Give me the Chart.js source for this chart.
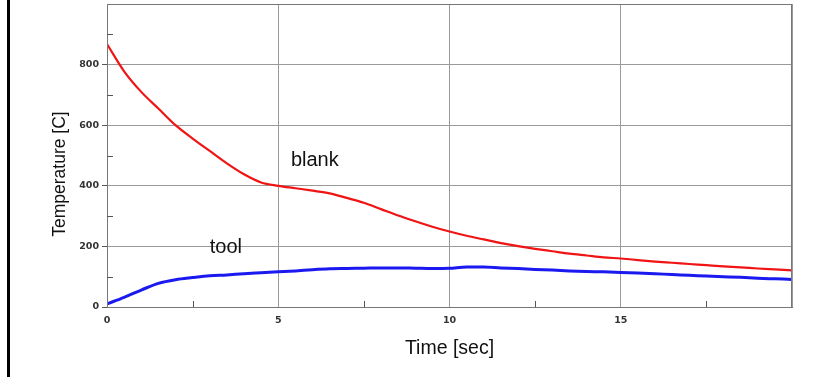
<!DOCTYPE html>
<html>
<head>
<meta charset="utf-8">
<script src="https://cdn.jsdelivr.net/npm/chart.js@4.4.1/dist/chart.umd.min.js"></script>
<style>
  body { margin: 0; background: #fff; }
  #wrap { position: relative; width: 838px; height: 377px; }
  #edge { position: absolute; left: 7px; top: 0; width: 3px; height: 377px; background: #000; }
</style>
</head>
<body>
<div id="wrap">
  <canvas id="temp_chart" width="838" height="377"></canvas>
  <div id="edge"></div>
</div>
<script>
// time axis [sec]
const blankTime = [0, 0.5, 1, 1.5, 2, 2.5, 3, 3.5, 4, 4.5, 5, 5.5, 6, 6.5, 7, 7.5, 8, 8.5, 9, 9.5,
    10, 10.5, 11, 11.5, 12, 12.5, 13, 13.5, 14, 14.5, 15, 15.5, 16, 16.5, 17, 17.5, 18, 18.5, 19, 19.5, 20]
const blankTemp = [868, 778, 710, 655, 600, 556, 515, 474, 438, 411, 400, 392, 384, 375, 360, 344, 323, 302, 283, 265,
    249, 235, 223, 211, 201, 192, 184, 176, 170, 164, 160, 155, 150, 146, 142, 138, 134, 131, 127, 124, 121]

const toolTime = blankTime
const toolTemp = [10, 32, 56, 78, 90, 97, 103, 106, 110, 113, 116, 119, 123, 126, 127, 128, 129, 129, 128, 127,
    128, 132, 132, 129, 127, 124, 122, 119, 117, 116, 114, 112, 110, 107, 105, 102, 100, 98, 95, 93, 91]

const yTicks = [0, 200, 400, 600, 800]
const xTicks = [0, 5, 10, 15]
const yMinor = [100, 300, 500, 700, 900]
const xMinor = [2.5, 7.5, 12.5, 17.5]

// text labels next to the curves, in data coords
const curveLabels = [
    {text: 'blank', x: 5.37, y: 484},
    {text: 'tool', x: 3.0, y: 196}
]

const gridGray = '#9a9a9a'

// frame, minor ticks, curve labels and y title
const extras = {
    id: 'extras',
    afterDraw(chart) {
        const ctx = chart.ctx
        const a = chart.chartArea
        const xs = chart.scales.x
        const ys = chart.scales.y
        ctx.save()
        ctx.strokeStyle = '#777'
        ctx.lineWidth = 1
        ctx.strokeRect(a.left + 0.5, a.top + 0.5, a.right - a.left - 1, a.bottom - a.top)
        ctx.strokeStyle = '#555'
        ctx.beginPath()
        yMinor.forEach(v => {
            const py = Math.round(ys.getPixelForValue(v)) + 0.5
            ctx.moveTo(a.left, py); ctx.lineTo(a.left + 6, py)
        })
        xMinor.forEach(v => {
            const px = Math.round(xs.getPixelForValue(v)) + 0.5
            ctx.moveTo(px, a.bottom); ctx.lineTo(px, a.bottom - 6)
        })
        ctx.stroke()

        ctx.fillStyle = '#111'
        ctx.font = '20px "Liberation Sans", Arial, sans-serif'
        ctx.textBaseline = 'middle'
        ctx.textAlign = 'left'
        curveLabels.forEach(l => {
            ctx.fillText(l.text, xs.getPixelForValue(l.x), ys.getPixelForValue(l.y))
        })

        ctx.translate(60, 174)
        ctx.rotate(-Math.PI / 2)
        ctx.textAlign = 'center'
        ctx.font = '17.5px "Liberation Sans", Arial, sans-serif'
        ctx.fillText('Temperature [C]', 0, 0)
        ctx.restore()
    }
}

let myChart = document.getElementById('temp_chart').getContext('2d')

let tempChart = new Chart(myChart, {
    type: 'line',
    data: {
        datasets: [{
            label: 'blank',
            data: blankTime.map((t, i) => ({x: t, y: blankTemp[i]})),
            borderColor: 'rgb(240, 20, 20)',
            borderWidth: 2.2,
            pointRadius: 0,
            cubicInterpolationMode: 'monotone'
        }, {
            label: 'tool',
            data: toolTime.map((t, i) => ({x: t, y: toolTemp[i]})),
            borderColor: 'rgb(25, 25, 240)',
            borderWidth: 3,
            pointRadius: 0,
            cubicInterpolationMode: 'monotone'
        }]
    },
    options: {
        responsive: false,
        animation: false,
        layout: {padding: {top: 4, right: 46, left: 0, bottom: 0}},
        plugins: {legend: {display: false}, tooltip: {enabled: false}},
        scales: {
            x: {
                type: 'linear',
                min: 0, max: 20,
                afterBuildTicks: s => { s.ticks = xTicks.concat([20]).map(v => ({value: v})) },
                afterFit: s => { s.height = 70; s.paddingLeft = 0; s.paddingRight = 0 },
                grid: {color: gridGray, tickLength: 5, tickColor: 'transparent'},
                border: {color: '#777'},
                ticks: {
                    padding: 3,
                    maxRotation: 0,
                    color: '#333',
                    font: {family: 'DejaVu Sans', size: 9.5, weight: 'bold'},
                    callback: v => xTicks.includes(v) ? v : ''
                },
                title: {
                    display: true,
                    text: 'Time [sec]',
                    color: '#111',
                    font: {family: 'Liberation Sans', size: 19.5},
                    padding: {top: 0, bottom: 17}
                }
            },
            y: {
                min: 0, max: 1000,
                afterBuildTicks: s => { s.ticks = yTicks.concat([1000]).map(v => ({value: v})) },
                afterFit: s => { s.width = 107; s.paddingTop = 0; s.paddingBottom = 0 },
                grid: {
                    color: gridGray,
                    tickLength: 5,
                    tickColor: c => c.tick && c.tick.value === 1000 ? 'transparent' : '#555'
                },
                border: {color: '#777'},
                ticks: {
                    padding: 3,
                    color: '#333',
                    font: {family: 'DejaVu Sans', size: 9.5, weight: 'bold'},
                    callback: v => yTicks.includes(v) ? v : ''
                }
            }
        }
    },
    plugins: [extras]
})
</script>
</body>
</html>
